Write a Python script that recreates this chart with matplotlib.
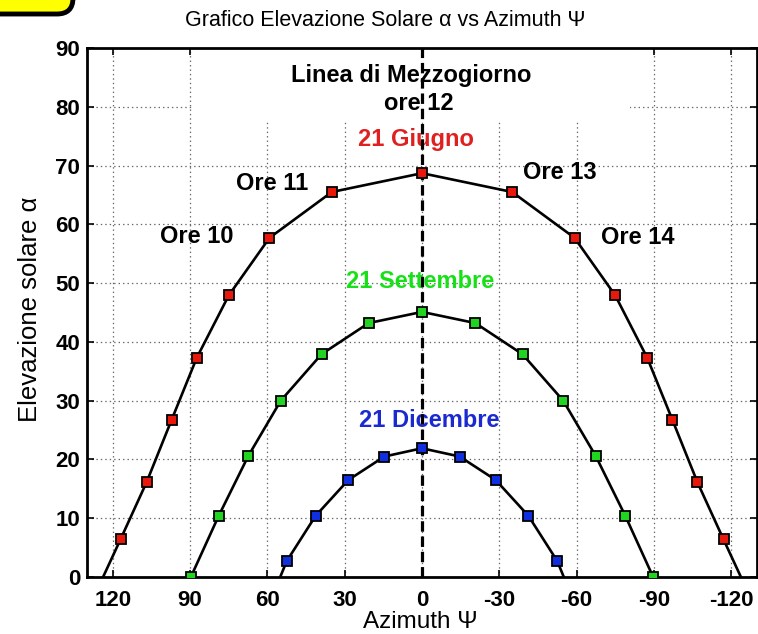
import matplotlib
matplotlib.use("Agg")
import matplotlib.pyplot as plt
from matplotlib.patches import FancyBboxPatch, Rectangle
from matplotlib.transforms import IdentityTransform

plt.rcParams['font.family'] = ['Liberation Sans', 'DejaVu Sans']
plt.rcParams['lines.scale_dashes'] = False
plt.rcParams['axes.unicode_minus'] = False

# ---- data ----
june_az = [126.5, 117.0, 106.9, 97.2, 87.4, 75.0, 59.2, 35.0, 0.0,
           -35.0, -59.2, -75.0, -87.4, -97.2, -106.9, -117.0, -126.5]
june_el = [-2.6, 6.4, 16.1, 26.7, 37.3, 47.9, 57.7, 65.5, 68.7,
           65.5, 57.7, 47.9, 37.3, 26.7, 16.1, 6.4, -2.6]

sept_az = [89.7, 78.9, 67.4, 54.8, 39.0, 20.7, 0.0,
           -20.7, -39.0, -54.8, -67.4, -78.9, -89.7]
sept_el = [0.0, 10.4, 20.6, 30.0, 37.9, 43.2, 45.1,
           43.2, 37.9, 30.0, 20.6, 10.4, 0.0]

dec_az = [61.0, 52.5, 41.3, 28.6, 14.6, 0.0, -14.6, -28.6, -41.3, -52.5, -61.0]
dec_el = [-6.4, 2.7, 10.4, 16.5, 20.5, 21.9, 20.5, 16.5, 10.4, 2.7, -6.4]

noon_az = 0
x_ticks = [120, 90, 60, 30, 0, -30, -60, -90, -120]
y_ticks = [0, 10, 20, 30, 40, 50, 60, 70, 80, 90]

W, H = 758, 634
fig = plt.figure(figsize=(W / 100, H / 100), dpi=100)
ax = fig.add_axes([87 / W, 1 - 577 / H, (757 - 87) / W, (577 - 48) / H])

ax.set_xlim(130, -130)
ax.set_ylim(0, 90)
ax.set_xticks(x_ticks)
ax.set_yticks(y_ticks)
ax.grid(True, linestyle=(0, (1, 2.2)), color='0.4', linewidth=0.9, zorder=0)
ax.set_axisbelow(True)

# white background box behind the noon label (hides grid)
ax.add_patch(Rectangle((88.7, 77.4), -80.6 - 88.7, 13.0, facecolor='white',
                       edgecolor='none', zorder=1.5))

mk = dict(marker='s', markersize=7, markeredgecolor='black', markeredgewidth=1.3,
          color='black', linewidth=1.9, zorder=4)
ax.plot(june_az, june_el, markerfacecolor='#e8180c', **mk)
ax.plot(sept_az, sept_el, markerfacecolor='#22d422', **mk)
ax.plot(dec_az, dec_el, markerfacecolor='#1030e0', **mk)

ax.axvline(noon_az, color='black', linewidth=2.3, linestyle=(0, (7.5, 3.5)), zorder=3)

fs = 17
tk = dict(fontsize=fs, ha='center', va='center', zorder=2, fontweight='bold')
ax.text(4.1, 85.4, 'Linea di Mezzogiorno', **tk)
ax.text(1.3, 80.6, 'ore 12', **tk)
ax.text(2.5, 74.4, '21 Giugno', color='#e02020', **tk)
ax.text(58.2, 66.9, 'Ore 11', **tk)
ax.text(87.4, 58.0, 'Ore 10', **tk)
ax.text(-53.3, 68.8, 'Ore 13', **tk)
ax.text(-83.6, 57.8, 'Ore 14', **tk)
ax.text(0.85, 50.3, '21 Settembre', color='#18e018', **tk)
ax.text(-3.0, 26.7, '21 Dicembre', color='#1a2ad0', **tk)

ax.tick_params(direction='in', length=5, width=1.2, top=True, right=True,
               labelsize=16)
ax.tick_params(axis='x', pad=9)
ax.tick_params(axis='y', pad=5)
for lbl in ax.get_xticklabels() + ax.get_yticklabels():
    lbl.set_fontweight('bold')
for s in ax.spines.values():
    s.set_linewidth(2.0)

fig.text(385.5 / W, 1 - 20 / H, 'Grafico Elevazione Solare α vs Azimuth Ψ',
         fontsize=15.5, ha='center', va='center')
fig.text(420.5 / W, 1 - 622 / H, 'Azimuth Ψ', fontsize=17.5, ha='center', va='center')
fig.text(30 / W, 1 - 309 / H, 'Elevazione solare α', fontsize=18.5, ha='center',
         va='center', rotation=90)

# yellow rounded badge at top-left corner
fig.patches.append(FancyBboxPatch((-60, H - 14), 133, 80,
                                  boxstyle='round,pad=0,rounding_size=16',
                                  facecolor='#ffff00', edgecolor='black',
                                  linewidth=3.5, transform=IdentityTransform(),
                                  figure=fig))

fig.savefig('out.png', dpi=100)
